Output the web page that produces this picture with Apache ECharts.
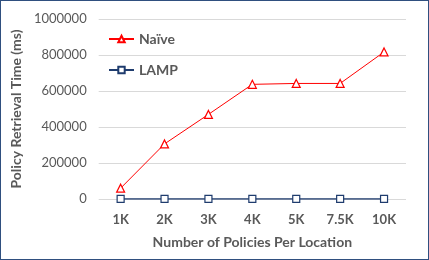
<!DOCTYPE html>
<html><head><meta charset="utf-8">
<script src="https://cdn.jsdelivr.net/npm/echarts@6/dist/echarts.min.js"></script>
<style>html,body{margin:0;padding:0;background:#fff}#c{width:429px;height:260px;box-sizing:border-box;border:1.5px solid #2F4F7F}</style>
</head><body><div id="c"></div>
<script>
const categories = ['1K','2K','3K','4K','5K','7.5K','10K'];
const naive = [60000, 306000, 470000, 637000, 642000, 642000, 817000];
const lamp = [500, 500, 500, 500, 500, 500, 500];
const yTicks = [0, 200000, 400000, 600000, 800000, 1000000];

const chart = echarts.init(document.getElementById('c'));
const font = 'Lato, "Open Sans", sans-serif';
chart.setOption({
  animation: false,
  textStyle: {fontFamily: font},
  grid: {left: 90, right: 22, top: 18, bottom: 60, containLabel: false},
  legend: {
    orient: 'vertical', left: 102, top: 26, itemGap: 17, itemWidth: 25, itemHeight: 8,
    textStyle: {color: '#595959', fontSize: 14, fontWeight: 'bold', fontFamily: font},
    data: ['Naïve', 'LAMP']
  },
  xAxis: {
    type: 'category', data: categories, boundaryGap: true,
    axisLine: {show: false}, axisTick: {show: false},
    axisLabel: {color: '#595959', fontSize: 13, fontWeight: 'bold', margin: 14},
    name: 'Number of Policies Per Location', nameLocation: 'middle', nameGap: 36,
    nameTextStyle: {color: '#595959', fontSize: 14, fontWeight: 'bold'}
  },
  yAxis: {
    type: 'value', min: yTicks[0], max: yTicks[yTicks.length-1], interval: 200000,
    axisLine: {show: false}, axisTick: {show: false},
    splitLine: {lineStyle: {color: '#D9D9D9', width: 1}},
    axisLabel: {color: '#595959', fontSize: 13, margin: 12, formatter: v => String(v)},
    name: 'Policy Retrieval Time (ms)', nameLocation: 'middle', nameGap: 75,
    nameTextStyle: {color: '#595959', fontSize: 14, fontWeight: 'bold'}
  },
  series: [
    {name: 'Naïve', type: 'line', data: naive, symbol: 'triangle', symbolSize: 8,
     lineStyle: {color: '#FF0000', width: 1}, itemStyle: {color: '#fff', borderColor: '#FF0000', borderWidth: 1.2}, color: '#FF0000'},
    {name: 'LAMP', type: 'line', data: lamp, symbol: 'rect', symbolSize: 7,
     lineStyle: {color: '#1F3C6E', width: 1.5}, itemStyle: {color: '#fff', borderColor: '#1F3C6E', borderWidth: 1.2}, color: '#1F3C6E'}
  ]
});
</script></body></html>
